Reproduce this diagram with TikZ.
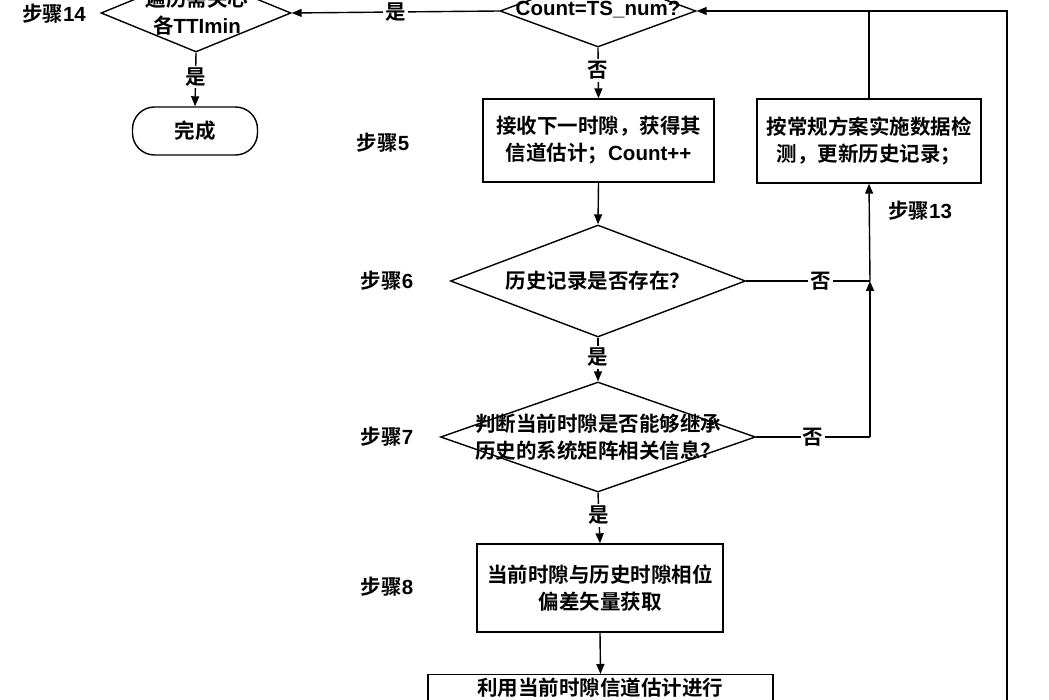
\documentclass[tikz,border=0pt]{standalone}
\usepackage{fontspec}
\setmainfont{Liberation Sans}
\newfontfamily\cjk{Noto Sans CJK SC}[BoldFont={Noto Sans CJK SC Bold}]
\newfontfamily\latf{Liberation Sans}
\newcommand\lat[1]{{\latf\bfseries #1}}
\usetikzlibrary{shapes.geometric,arrows.meta}
\tikzset{
  ln/.style={line width=1.4pt,draw=black},
  arr/.style={ln,-{Triangle[length=10pt,width=8pt]}},
  txt/.style={font=\cjk\bfseries\fontsize{20.5}{27}\selectfont,align=center,text=black,inner sep=0pt},
  boxn/.style={ln,rectangle,inner sep=0pt,txt},
  dia/.style={ln,diamond,inner sep=0pt},
  lab/.style={txt,fill=white,inner sep=2pt},
  term/.style={ln,rectangle,rounded corners=22pt,inner sep=0pt,txt},
}
\begin{document}
\begin{tikzpicture}[x=1pt,y=-1pt]
\useasboundingbox (0,0) rectangle (1049,700);
% shapes
\node[dia,minimum width=190pt,minimum height=78pt] (d14) at (196,13) {};
\node[txt] (d14t) at (197,12) {遍历需关心\\各\lat{TTImin}};
\node[term,minimum width=125pt,minimum height=48pt] (end) at (195,131) {完成};

\node[dia,minimum width=196pt,minimum height=72pt] (dC) at (598,11) {};
\node[txt,anchor=base] (dCt) at (598,16) {\lat{Count=TS\_num?}};

\node[boxn,minimum width=231pt,minimum height=83pt] (b5) at (598.5,140.5) {接收下一时隙，获得其\\信道估计；\lat{Count++}};
\node[boxn,minimum width=224pt,minimum height=84pt] (b13) at (869,141) {按常规方案实施数据检\\测，更新历史记录；};

\node[dia,minimum width=295pt,minimum height=112pt] (d6) at (598,281) {};
\node[txt] (d6t) at (598,281) {历史记录是否存在？};

\node[dia,minimum width=315pt,minimum height=110pt] (d7) at (598,437) {};
\node[txt] (d7t) at (598,437) {判断当前时隙是否能够继承\\历史的系统矩阵相关信息？};

\node[boxn,minimum width=246pt,minimum height=88pt] (b8) at (600,588) {当前时隙与历史时隙相位\\偏差矢量获取};
\node[ln,rectangle,minimum width=345pt,minimum height=96pt,anchor=north] (b9) at (600.5,674) {};
\node[txt] (b9t) at (600,688) {利用当前时隙信道估计进行};

% step labels
\node[txt] (s14) at (54,14) {步骤\lat{14}};
\node[txt] (s5) at (383,143) {步骤\lat{5}};
\node[txt] (s6) at (387,281) {步骤\lat{6}};
\node[txt] (s7) at (387,437) {步骤\lat{7}};
\node[txt] (s8) at (387,587) {步骤\lat{8}};
\node[txt] (s13) at (920,211) {步骤\lat{13}};

% helper coordinates
\coordinate (rt) at (1007,11);
\coordinate (rb) at (1007,710);
\coordinate (j6) at (870,281);
\coordinate (j7) at (870,437);

% connectors
\draw[arr] (dC.west) -- node[lab] {是} (d14.east);
\draw[arr] (d14.south) -- node[lab,pos=0.45] {是} (end.north);
\draw[arr] (dC.south) -- node[lab,pos=0.45] {否} (b5.north);
\draw[arr] (b5.south) -- (d6.north);
\draw[arr] (d6.south) -- node[lab,pos=0.45] {是} (d7.north);
\draw[arr] (d7.south) -- node[lab,pos=0.45] {是} (b8.north);
\draw[arr] (b8.south) -- (b9.north);
\draw[ln] (d6.east) -- node[lab,pos=0.6] {否} (j6);
\draw[arr] (j6) -- (b13.south);
\draw[ln] (d7.east) -- node[lab,pos=0.5] {否} (j7);
\draw[arr] (j7) -- (j6);
\draw[ln] (b13.north) -- (b13.north |- rt);
\draw[arr] (rb) -- (rt) -- (dC.east);
\end{tikzpicture}
\end{document}
